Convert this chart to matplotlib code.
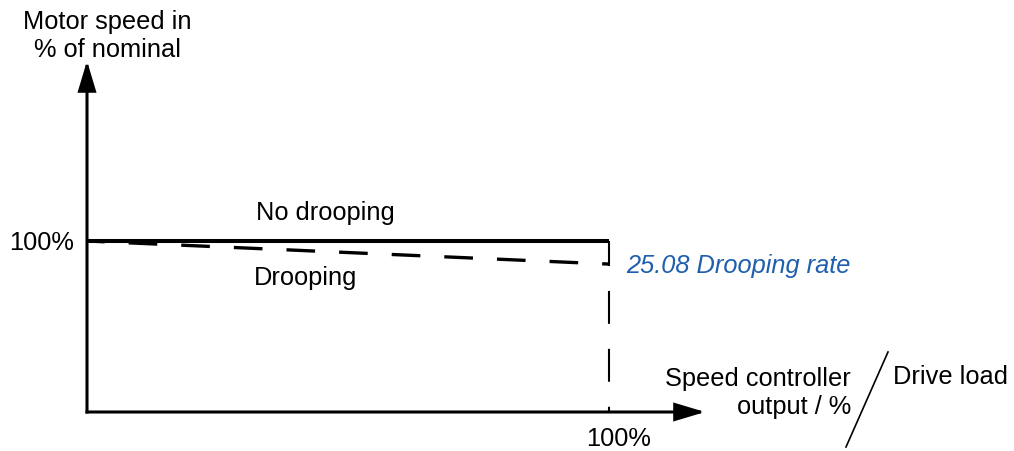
import matplotlib
matplotlib.use("Agg")
import matplotlib.pyplot as plt

plt.rcParams['font.family'] = ['Liberation Sans', 'DejaVu Sans']

# Data (semantic units: load % on x, speed % on y)
load_pts = [0, 100]
no_droop_speed = [100, 100]
droop_speed = [100, 86.5]
x_axis_end = 118.4
y_axis_end = 205.3
y_label = "Motor speed in\n% of nominal"
x_label = "Speed controller\noutput / %"
x_label2 = "Drive load"
tick_label = "100%"
param_label = "25.08 Drooping rate"

W, H = 1014, 452
fig = plt.figure(figsize=(W / 100, H / 100), dpi=100)
ax = fig.add_axes([0, 0, 1, 1])
ax.axis('off')

# pixel mapping: x=0 -> px 87, x=100 -> px 609 ; y=0 -> py 413, y=100 -> py 242
sx = (609 - 87) / 100.0
sy = (413 - 242) / 100.0
ax.set_xlim(-87 / sx, (W - 87) / sx)
ax.set_ylim((413 - H) / sy, 413 / sy)

def P(px, py):
    return ((px - 87) / sx, (413 - py) / sy)

lw = 2.2
# axes with arrowheads
arrow = dict(arrowstyle='-|>,head_length=1.0,head_width=0.3', mutation_scale=18,
             lw=lw, color='black', shrinkA=0, shrinkB=0, joinstyle='miter',
             capstyle='projecting')
ax.annotate('', xy=(0, y_axis_end), xytext=(0, 0), arrowprops=arrow)
ax.annotate('', xy=(x_axis_end, 0), xytext=(0, 0), arrowprops=arrow)

# no drooping
ax.plot(load_pts, no_droop_speed, color='black', lw=2.9, solid_capstyle='butt')
# drooping
ax.plot(load_pts, droop_speed, color='black', lw=2.4, ls=(3.3, (8.6, 7.2)),
        dash_capstyle='butt')
# vertical dashed at 100%
ax.plot([load_pts[1], load_pts[1]], [no_droop_speed[1], 0], color='black', lw=1.5,
        ls=(3.84, (15.8, 12.0)), dash_capstyle='butt')

fs = 18.3
ax.text(*P(107, 36), y_label, ha='center', va='center', fontsize=fs, linespacing=1.25)
ax.text(*P(74, 243), tick_label, ha='right', va='center', fontsize=fs)
ax.text(*P(325, 213), "No drooping", ha='center', va='center', fontsize=fs)
ax.text(*P(306, 278), "Drooping", ha='center', va='center', fontsize=fs)
ax.text(*P(626, 266), param_label, ha='left', va='center', fontsize=fs,
        style='italic', color='#1f5fae')
ax.text(*P(619, 439), tick_label, ha='center', va='center', fontsize=fs)
ax.text(*P(851, 393), x_label, ha='right', va='center', fontsize=fs,
        multialignment='right', linespacing=1.25)
ax.text(*P(893, 377), x_label2, ha='left', va='center', fontsize=fs)
x0, y0 = P(846, 448)
x1, y1 = P(888, 353)
ax.plot([x0, x1], [y0, y1], color='black', lw=1.2)

fig.savefig('out.png', dpi=100)
